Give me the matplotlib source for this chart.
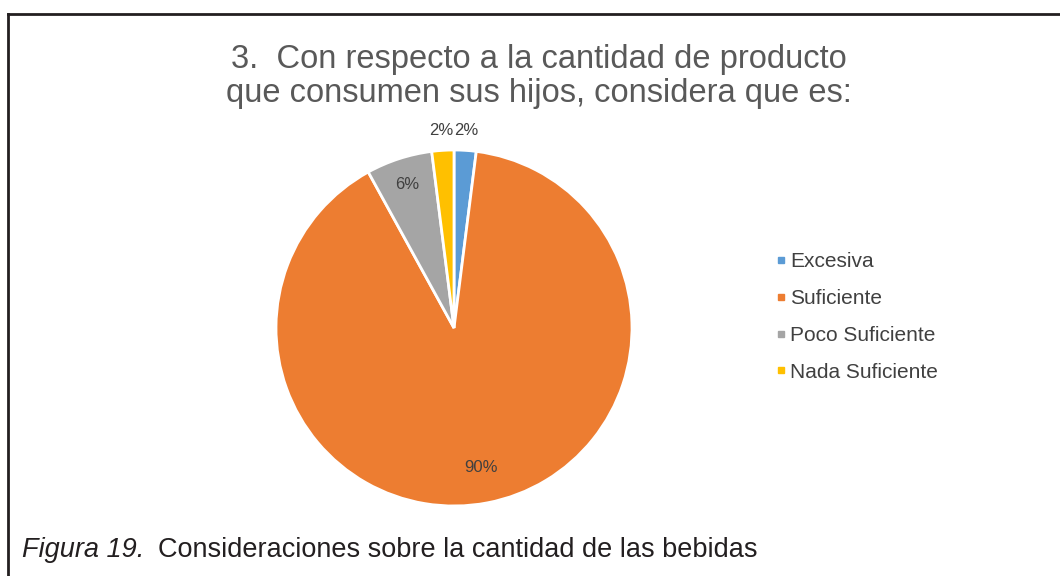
import matplotlib
matplotlib.use("Agg")
import matplotlib.pyplot as plt
import numpy as np
from matplotlib.lines import Line2D

plt.rcParams['font.family'] = ['Liberation Sans', 'DejaVu Sans']

# Data
categories = ['Excesiva', 'Suficiente', 'Poco Suficiente', 'Nada Suficiente']
counts = [1, 45, 3, 1]
colors = ['#5B9BD5', '#ED7D31', '#A5A5A5', '#FFC000']
title_lines = ['3.  Con respecto a la cantidad de producto',
               'que consumen sus hijos, considera que es:']
caption_fig = 'Figura 19.'
caption_txt = 'Consideraciones sobre la cantidad de las bebidas'

W, H = 1060, 576
fig = plt.figure(figsize=(W / 100, H / 100), dpi=100)

# pie axes: centre (454, 328) px, radius 178 px, limits +-1.25
cx, cy, r = 454, 328, 178
half = 1.25 * r
ax = fig.add_axes([(cx - half) / W, (H - cy - half) / H, 2 * half / W, 2 * half / H])
wedges, _ = ax.pie(counts, colors=colors, startangle=90, counterclock=False,
                   wedgeprops=dict(edgecolor='white', linewidth=2))
ax.set_xlim(-1.25, 1.25)
ax.set_ylim(-1.25, 1.25)
ax.set_aspect('equal')
ax.axis('off')

# data labels
total = sum(counts)
label_r = [1.11, 0.80, 0.85, 1.11]
for w, c, lr in zip(wedges, counts, label_r):
    ang = np.deg2rad((w.theta1 + w.theta2) / 2)
    ax.text(lr * np.cos(ang), lr * np.sin(ang), f'{100 * c / total:.0f}%',
            ha='center', va='center', fontsize=12, color='#404040',
            clip_on=False)

# legend
handles = [Line2D([], [], marker='s', linestyle='none', markersize=4.5,
                  markerfacecolor=col, markeredgecolor=col) for col in colors]
fig.legend(handles, categories, loc='center left',
           bbox_to_anchor=(764 / W, 1 - 317 / H), frameon=False,
           fontsize=15, labelcolor='#404040', handletextpad=0.15,
           handlelength=0.6, labelspacing=0.85, borderpad=0)

# title
fig.text(539 / W, 1 - 68 / H, title_lines[0], ha='center', va='baseline',
         fontsize=23.5, color='#595959')
fig.text(539 / W, 1 - 102 / H, title_lines[1], ha='center', va='baseline',
         fontsize=23.5, color='#595959')

# caption
t = fig.text(22 / W, 1 - 557 / H, caption_fig, ha='left', va='baseline',
             fontsize=19.5, style='italic', color='#231f20')
fig.canvas.draw()
bb = t.get_window_extent()
fig.text((bb.x1 + 14) / W, 1 - 557 / H, caption_txt, ha='left', va='baseline',
         fontsize=19.5, color='#231f20')

# frame lines (top and left)
fig.add_artist(Line2D([8 / W, 1], [1 - 14 / H, 1 - 14 / H], color='#231f20',
                      linewidth=2, transform=fig.transFigure))
fig.add_artist(Line2D([8 / W, 8 / W], [1 - 14 / H, 0], color='#231f20',
                      linewidth=2, transform=fig.transFigure))

fig.savefig('out.png', dpi=100)
